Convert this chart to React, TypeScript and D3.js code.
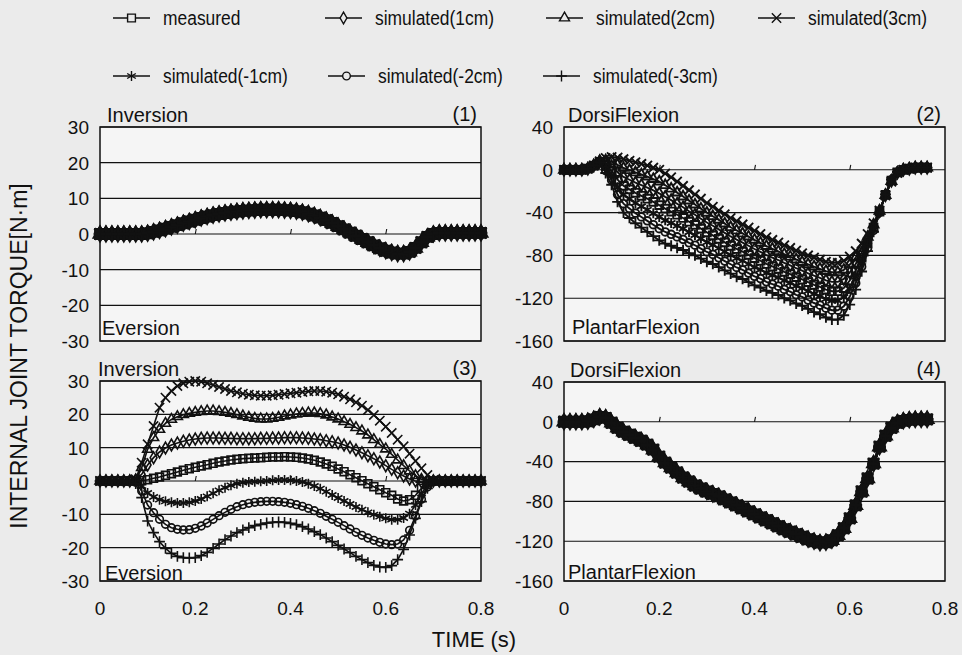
import React, { useEffect, useRef } from "react";
import * as d3 from "d3";

// sample times in seconds (80 Hz)
const time = d3.range(65).map((i) => i * 0.0125);

const seriesNames = [
  "measured",
  "simulated(1cm)",
  "simulated(2cm)",
  "simulated(3cm)",
  "simulated(-1cm)",
  "simulated(-2cm)",
  "simulated(-3cm)",
];

// (1) inversion torque, all series coincide
const inversionAll = [
  0, 0, 0, 0, 0, 0, 0, 0,
  0.2, 0.6, 1, 1.5, 2, 2.5, 3, 3.5,
  4, 4.5, 4.9, 5.3, 5.6, 5.9, 6.1, 6.3,
  6.5, 6.6, 6.7, 6.8, 6.8, 6.8, 6.8, 6.7,
  6.6, 6.4, 6.1, 5.7, 5.2, 4.6, 3.9, 3.1,
  2.2, 1.3, 0.4, -0.5, -1.4, -2.3, -3.2, -4,
  -4.7, -5.2, -5.5, -5.5, -5, -3.9, -2.3, -0.8,
  0, 0.3, 0.3, 0.3, 0.3, 0.3, 0.3, 0.3, 0.3,
];

// (2) dorsi/plantar flexion torque
const dorsiMeasured = [
  0, 0, 0, 0, 1, 4, 7.5, 4,
  -1, -9.3, -15, -18.3, -21.5, -24.3, -27, -30,
  -33, -36.3, -39, -42, -45, -48.5, -51.5, -55,
  -58.5, -61.3, -64.5, -67.8, -71, -74, -76.5, -79.5,
  -82.5, -85, -88, -90.3, -92.5, -95.3, -97.5, -100.3,
  -102.5, -105, -107.5, -109.5, -112, -113.5, -113.5, -110.5,
  -103.5, -94, -82, -68, -54, -39, -23.5, -10,
  -2.5, 0, 1, 2, 2, 2,
];
const dorsi1 = [
  0, 0, 0, 0, 1, 4, 8, 6.3,
  3.3, -2.3, -6.7, -9.3, -12, -14.3, -16.7, -19.3,
  -22, -25.3, -28.3, -31.7, -35, -38.7, -42, -45.7,
  -49.3, -52.3, -55.7, -59, -62.3, -65.3, -68, -71,
  -74, -76.7, -79.7, -82, -84.3, -87, -89.3, -92,
  -94.3, -96.7, -99, -101, -103.3, -104.7, -104.7, -102,
  -96, -88, -77.7, -65.3, -52.7, -38.7, -23.7, -10.3,
  -2.7, 0, 1, 2, 2, 2,
];
const dorsi2 = [
  0, 0, 0, 0, 1, 4, 8, 8.7,
  7.7, 4.6, 1.7, -0.4, -2.5, -4.4, -6.3, -8.7,
  -11, -14.4, -17.7, -21.3, -25, -28.8, -32.5, -36.3,
  -40.2, -43.4, -46.8, -50.3, -53.7, -56.7, -59.5, -62.5,
  -65.5, -68.3, -71.3, -73.8, -76.2, -78.8, -81.2, -83.8,
  -86.2, -88.3, -90.5, -92.5, -94.7, -95.8, -95.8, -93.5,
  -88.5, -82, -73.3, -62.7, -51.3, -38.3, -23.8, -10.7,
  -3, 0, 1, 2, 2, 2,
];
const dorsi3 = [
  0, 0, 0, 0, 1, 4, 8, 11,
  12, 11.5, 10, 8.5, 7, 5.5, 4, 2,
  0, -3.5, -7, -11, -15, -19, -23, -27,
  -31, -34.5, -38, -41.5, -45, -48, -51, -54,
  -57, -60, -63, -65.5, -68, -70.5, -73, -75.5,
  -78, -80, -82, -84, -86, -87, -87, -85,
  -81, -76, -69, -60, -50, -38, -24, -11,
  -3, 0, 1, 2, 2, 2,
];
const dorsiN1 = [
  0, 0, 0, 0, 1, 4, 7, 1.7,
  -5.3, -16.2, -23.3, -27.2, -31, -34.2, -37.3, -40.7,
  -44, -47.2, -49.7, -52.3, -55, -58.3, -61, -64.3,
  -67.7, -70.2, -73.3, -76.5, -79.7, -82.7, -85, -88,
  -91, -93.3, -96.3, -98.5, -100.7, -103.5, -105.7, -108.5,
  -110.7, -113.3, -116, -118, -120.7, -122.3, -122.3, -119,
  -111, -100, -86.3, -70.7, -55.3, -39.3, -23.3, -9.7,
  -2.3, 0, 1, 2, 2, 2,
];
const dorsiN2 = [
  0, 0, 0, 0, 1, 4, 7, -0.7,
  -9.7, -23.1, -31.7, -36.1, -40.5, -44.1, -47.7, -51.3,
  -55, -58.1, -60.3, -62.7, -65, -68.2, -70.5, -73.7,
  -76.8, -79.1, -82.2, -85.3, -88.3, -91.3, -93.5, -96.5,
  -99.5, -101.7, -104.7, -106.8, -108.8, -111.8, -113.8, -116.8,
  -118.8, -121.7, -124.5, -126.5, -129.3, -131.2, -131.2, -127.5,
  -118.5, -106, -90.7, -73.3, -56.7, -39.7, -23.2, -9.3,
  -2.2, 0, 1, 2, 2, 2,
];
const dorsiN3 = [
  0, 0, 0, 0, 1, 4, 7, -3,
  -14, -30, -40, -45, -50, -54, -58, -62,
  -66, -69, -71, -73, -75, -78, -80, -83,
  -86, -88, -91, -94, -97, -100, -102, -105,
  -108, -110, -113, -115, -117, -120, -122, -125,
  -127, -130, -133, -135, -138, -140, -140, -136,
  -126, -112, -95, -76, -58, -40, -23, -9,
  -2, 0, 1, 2, 2, 2,
];

// (3) inversion torque
const invMeasured = [
  0, 0, 0, 0, 0, 0, 0, 0.1,
  0.4, 0.8, 1.2, 1.7, 2.2, 2.7, 3.2, 3.7,
  4.1, 4.5, 4.9, 5.3, 5.7, 6, 6.3, 6.5,
  6.7, 6.8, 6.9, 7, 7.1, 7.2, 7.2, 7.3,
  7.2, 7.1, 6.9, 6.6, 6.2, 5.7, 5.1, 4.4,
  3.6, 2.8, 1.9, 1, 0.1, -0.8, -1.7, -2.6,
  -3.5, -4.3, -5.4, -6, -5.6, -4.3, -2.2, -0.6,
  0, 0, 0, 0, 0, 0, 0, 0, 0,
];
const inv1 = [
  0, 0, 0, 0, 0, 0, 0.2, 2,
  4.8, 7, 8.7, 9.9, 10.8, 11.4, 11.9, 12.3,
  12.6, 12.8, 12.9, 12.9, 12.9, 12.8, 12.8, 12.7,
  12.7, 12.7, 12.7, 12.8, 12.8, 12.9, 12.9, 13,
  13, 13, 12.9, 12.8, 12.6, 12.4, 12.1, 11.8,
  11.4, 10.8, 10.1, 9.3, 8.5, 7.6, 6.7, 5.7,
  4.6, 3.5, 2.5, 1.5, 0.6, 0, -0.3, -0.2,
  0, 0, 0, 0, 0, 0, 0, 0, 0,
];
const inv2 = [
  0, 0, 0, 0, 0, 0, 0.3, 4,
  9.5, 13, 15.5, 17.3, 18.5, 19.3, 19.9, 20.3,
  20.6, 20.8, 21, 21, 20.8, 20.6, 20.3, 19.9,
  19.5, 19.1, 18.8, 18.6, 18.6, 18.8, 19.1, 19.5,
  19.8, 20.1, 20.3, 20.4, 20.4, 20.2, 19.8, 19.2,
  18.6, 17.8, 17, 16, 15, 13.8, 12.4, 11,
  9.6, 8, 6.3, 4.6, 3, 1.6, 0.5, 0,
  0, 0, 0, 0, 0, 0, 0, 0, 0,
];
const inv3 = [
  0, 0, 0, 0, 0, 0, 0.5, 5.5,
  11, 16.5, 22, 25, 27, 28.5, 29.3, 29.8,
  30, 29.8, 29.3, 28.8, 28.2, 27.6, 27, 26.6,
  26.2, 25.9, 25.7, 25.6, 25.6, 25.7, 25.9, 26.1,
  26.3, 26.5, 26.7, 26.9, 27, 27, 26.8, 26.5,
  26, 25.3, 24.5, 23.6, 22.6, 21.3, 19.8, 18.1,
  16.3, 14.4, 12.4, 10.4, 8.2, 6, 3.8, 1.8,
  0.3, 0, 0, 0, 0, 0, 0, 0, 0,
];
const invN1 = [
  0, 0, 0, 0, 0, 0, -0.2, -1.5,
  -3.6, -4.8, -5.6, -6.1, -6.4, -6.6, -6.6, -6.4,
  -6, -5.4, -4.6, -3.7, -2.8, -2, -1.3, -0.8,
  -0.5, -0.3, -0.2, -0.1, 0, 0.2, 0.3, 0.3,
  0.2, 0, -0.3, -0.8, -1.5, -2.3, -3.2, -4.2,
  -5.1, -6, -6.9, -7.8, -8.6, -9.4, -10.1, -10.7,
  -11.2, -11.6, -11.6, -11.1, -9.8, -7.2, -3.8, -1.2,
  0, 0, 0, 0, 0, 0, 0, 0, 0,
];
const invN2 = [
  0, 0, 0, 0, 0, 0, -0.4, -3,
  -7.2, -9.5, -11.5, -13, -14, -14.5, -14.7, -14.6,
  -14.2, -13.5, -12.6, -11.5, -10.4, -9.4, -8.5, -7.7,
  -7.1, -6.7, -6.4, -6.2, -6.1, -6.1, -6.2, -6.4,
  -6.7, -7.1, -7.6, -8.2, -8.9, -9.7, -10.6, -11.5,
  -12.4, -13.4, -14.4, -15.4, -16.3, -17.1, -17.8, -18.4,
  -18.9, -19.1, -18.9, -17.7, -14.8, -10.5, -5.5, -1.8,
  0, 0, 0, 0, 0, 0, 0, 0, 0,
];
const invN3 = [
  0, 0, 0, 0, 0, 0, -0.8, -5,
  -12, -15.5, -18.2, -20.2, -21.7, -22.6, -23, -23.1,
  -23, -22.4, -21.4, -20.2, -18.9, -17.6, -16.5, -15.5,
  -14.7, -14, -13.4, -13, -12.6, -12.4, -12.3, -12.4,
  -12.7, -13.1, -13.7, -14.4, -15.2, -16.1, -17.1, -18.2,
  -19.3, -20.4, -21.5, -22.6, -23.6, -24.5, -25.3, -25.8,
  -25.9, -25.4, -23.6, -20.5, -16.2, -11.2, -6.2, -2.2,
  0, 0, 0, 0, 0, 0, 0, 0, 0,
];

// (4) dorsi/plantar flexion torque, all series coincide
const dorsiAll = [
  0, 0, 0, 0, 0.5, 2.5, 5, 4,
  -1, -6, -10, -13, -16, -19, -23, -28,
  -35, -41, -46, -51, -56, -60, -64, -67,
  -70, -72.5, -75, -78, -81, -84, -87, -90,
  -93, -96, -99, -102, -105, -108, -110.5, -113,
  -115.5, -118, -120, -121.5, -121, -119, -114, -107,
  -97, -84, -70, -57, -42, -25, -14, -6,
  -1, 1, 2, 2.5, 2.5, 2.5,
];

const invTicks = [-30, -20, -10, 0, 10, 20, 30];
const dorsiTicks = [-160, -120, -80, -40, 0, 40];
const xTicks = [0, 0.2, 0.4, 0.6, 0.8];
const xTickLabels = ["0", "0.2", "0.4", "0.6", "0.8"];

const panels = [
  {
    num: "(1)", top: "Inversion", bottom: "Eversion", ticks: invTicks,
    series: [inversionAll, inversionAll, inversionAll, inversionAll, inversionAll, inversionAll, inversionAll],
    x0: 100, x1: 481, y0: 127, y1: 341, topX: 107, botX: 102, botY: 335, xLabels: false, weight: 2.6, grow: 1.4,
  },
  {
    num: "(2)", top: "DorsiFlexion", bottom: "PlantarFlexion", ticks: dorsiTicks,
    series: [dorsiMeasured, dorsi1, dorsi2, dorsi3, dorsiN1, dorsiN2, dorsiN3],
    x0: 564, x1: 945, y0: 127, y1: 341, topX: 568, botX: 572, botY: 334, xLabels: false, weight: 1.9, grow: 1,
  },
  {
    num: "(3)", top: "Inversion", bottom: "Eversion", ticks: invTicks,
    series: [invMeasured, inv1, inv2, inv3, invN1, invN2, invN3],
    x0: 100, x1: 481, y0: 381, y1: 581, topX: 98, botX: 105, botY: 580, xLabels: true, weight: 1.6, grow: 1,
  },
  {
    num: "(4)", top: "DorsiFlexion", bottom: "PlantarFlexion", ticks: dorsiTicks,
    series: [dorsiAll, dorsiAll, dorsiAll, dorsiAll, dorsiAll, dorsiAll, dorsiAll],
    x0: 564, x1: 945, y0: 382, y1: 581, topX: 570, botX: 568, botY: 579, xLabels: true, weight: 2.6, grow: 1.4,
  },
];

const markers = [
  { type: d3.symbolSquare2 || d3.symbolSquare, size: 78 },
  { type: d3.symbolDiamond, size: 40 },
  { type: d3.symbolTriangle2 || d3.symbolTriangle, size: 72 },
  { type: d3.symbolTimes || d3.symbolCross, size: 58 },
  { type: d3.symbolAsterisk || d3.symbolStar, size: 70 },
  { type: d3.symbolCircle, size: 46 },
  { type: d3.symbolPlus || d3.symbolCross, size: 40 },
];

const legendPos = [
  [113, 18], [325, 18], [546, 18], [758, 18],
  [113, 76], [328, 76], [543, 76],
];

const FONT = "'Liberation Sans', Arial, Helvetica, sans-serif";
const INK = "#111";
const PAGE = "#ebebeb";

function App() {
  const ref = useRef(null);

  useEffect(() => {
    const svg = d3.select(ref.current);
    svg.selectAll("*").remove();
    drawChart(svg);
  }, []);

  const drawChart = (svg) => {
    svg.append("rect").attr("width", 962).attr("height", 655).attr("fill", PAGE);

    //---- legend ----//
    seriesNames.forEach((name, si) => {
      const [lx, ly] = legendPos[si];
      const lg = svg.append("g");
      lg.append("line")
        .attr("x1", lx).attr("x2", lx + 37).attr("y1", ly).attr("y2", ly)
        .attr("stroke", INK).attr("stroke-width", 1.5);
      lg.append("path")
        .attr("transform", `translate(${lx + 18.5},${ly})`)
        .attr("d", d3.symbol(markers[si].type, markers[si].size)())
        .attr("fill", PAGE).attr("stroke", INK).attr("stroke-width", 1.4);
      // condensed look of the original legend font
      lg.append("text")
        .attr("transform", `translate(${lx + 50},${ly + 7}) scale(0.83,1)`)
        .attr("font-family", FONT)
        .attr("font-size", 21).attr("fill", INK)
        .text(name);
    });

    //---- panels ----//
    panels.forEach((p) => {
      const xScale = d3.scaleLinear().domain([0, 0.8]).range([p.x0, p.x1]);
      const yScale = d3.scaleLinear().domain(d3.extent(p.ticks)).range([p.y1, p.y0]);
      const g = svg.append("g");

      g.append("rect")
        .attr("x", p.x0).attr("y", p.y0)
        .attr("width", p.x1 - p.x0).attr("height", p.y1 - p.y0)
        .attr("fill", "#f5f5f5");

      // gridlines
      g.selectAll(".grid")
        .data(p.ticks)
        .join("line")
        .attr("x1", p.x0).attr("x2", p.x1)
        .attr("y1", (d) => yScale(d)).attr("y2", (d) => yScale(d))
        .attr("stroke", INK).attr("stroke-width", 1.1);

      // y tick labels
      g.selectAll(".ylab")
        .data(p.ticks)
        .join("text")
        .attr("x", p.x0 - 11).attr("y", (d) => yScale(d))
        .attr("dy", "0.36em")
        .attr("text-anchor", "end")
        .attr("font-family", FONT).attr("font-size", 19).attr("fill", INK)
        .text((d) => d);

      // small category ticks on the zero line
      g.selectAll(".ztick")
        .data(xTicks.slice(1, -1))
        .join("line")
        .attr("x1", (d) => xScale(d)).attr("x2", (d) => xScale(d) + 1)
        .attr("y1", yScale(0)).attr("y2", yScale(0) - 5)
        .attr("stroke", INK).attr("stroke-width", 1.1);

      // series
      p.series.forEach((vals, si) => {
        const pts = vals.map((v, i) => [time[i], v]);
        const line = d3.line().x((d) => xScale(d[0])).y((d) => yScale(d[1]));
        g.append("path")
          .attr("d", line(pts))
          .attr("fill", "none").attr("stroke", INK).attr("stroke-width", p.weight);
        g.append("g")
          .selectAll("path")
          .data(pts)
          .join("path")
          .attr("transform", (d) => `translate(${xScale(d[0])},${yScale(d[1])})`)
          .attr("d", d3.symbol(markers[si].type, markers[si].size * p.grow)())
          .attr("fill", "none").attr("stroke", INK).attr("stroke-width", p.weight);
      });

      // frame
      g.append("rect")
        .attr("x", p.x0).attr("y", p.y0)
        .attr("width", p.x1 - p.x0).attr("height", p.y1 - p.y0)
        .attr("fill", "none").attr("stroke", INK).attr("stroke-width", 1.5);

      // labels
      g.append("text")
        .attr("x", p.topX).attr("y", p.y0 - 5)
        .attr("font-family", FONT).attr("font-size", 20).attr("fill", INK)
        .text(p.top);
      g.append("text")
        .attr("x", p.botX).attr("y", p.botY)
        .attr("font-family", FONT).attr("font-size", 20).attr("fill", INK)
        .text(p.bottom);
      g.append("text")
        .attr("x", p.x1 - 4).attr("y", p.y0 - 6)
        .attr("text-anchor", "end")
        .attr("font-family", FONT).attr("font-size", 20).attr("fill", INK)
        .text(p.num);

      if (p.xLabels) {
        g.selectAll(".xlab")
          .data(xTicks)
          .join("text")
          .attr("x", (d) => xScale(d)).attr("y", 615)
          .attr("text-anchor", "middle")
          .attr("font-family", FONT).attr("font-size", 19).attr("fill", INK)
          .text((d, i) => xTickLabels[i]);
      }
    });

    //---- axis titles ----//
    svg.append("text")
      .attr("x", 474).attr("y", 647)
      .attr("text-anchor", "middle")
      .attr("font-family", FONT).attr("font-size", 22).attr("fill", INK)
      .text("TIME (s)");

    svg.append("text")
      .attr("transform", "translate(27,356) rotate(-90)")
      .attr("text-anchor", "middle")
      .attr("font-family", FONT).attr("font-size", 23).attr("fill", INK)
      .text("INTERNAL JOINT TORQUE[N·m]");
  };

  return (
    <svg
      ref={ref}
      width={962}
      height={655}
      style={{ position: "absolute", left: 0, top: 0, display: "block" }}
    />
  );
}

export default App;
